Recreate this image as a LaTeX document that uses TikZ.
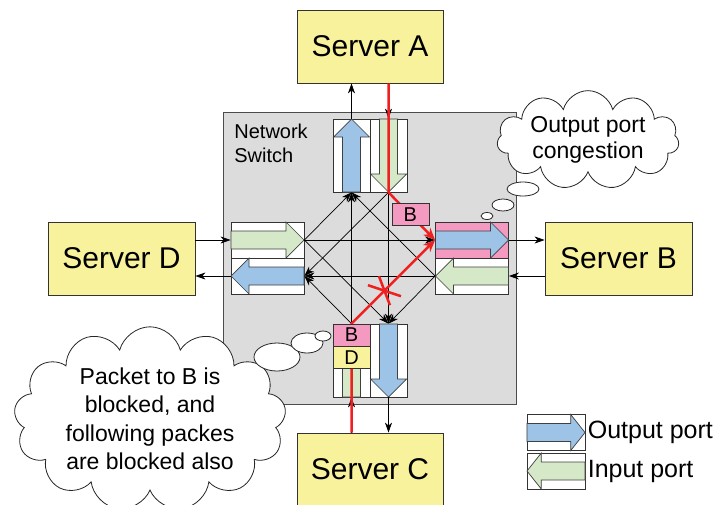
\documentclass[tikz,border=0pt]{standalone}
\usepackage{fontspec}
\setmainfont{Liberation Sans}
\usetikzlibrary{arrows.meta,shapes.geometric,shapes.symbols,calc}
\tikzset{>={Stealth[length=10pt,width=7pt,inset=3pt]}}
\definecolor{srvyellow}{HTML}{F7F29B}
\definecolor{bluearr}{HTML}{9DC3E6}
\definecolor{greenarr}{HTML}{D5E8C8}
\definecolor{pinkpk}{HTML}{F49AC1}
\definecolor{swgray}{HTML}{DCDCDC}
\definecolor{redline}{HTML}{F02020}
% block arrow inside a port cell: [extra opts]{cell}{angle}{fill}
\newcommand{\portarrow}[4][]{%
  \begin{scope}[shift={(#2.center)},rotate=#3,#1]
    \filldraw[draw=black!75,fill=#4,line width=0.7pt] (-36.5,-9) -- (18.5,-9) -- (18.5,-18)
      -- (36.5,0) -- (18.5,18) -- (18.5,9) -- (-36.5,9) -- cycle;
  \end{scope}}

\begin{document}
\begin{tikzpicture}[x=1pt, y=-1pt, line width=0.8pt,
    server/.style={draw=black!80, fill=srvyellow, minimum width=146pt, minimum height=73pt,
      inner sep=0pt, font=\fontsize{30}{36}\selectfont},
    hcell/.style={draw=black!80, fill=white, minimum width=73pt, minimum height=36pt, inner sep=0pt},
    vcell/.style={hcell, minimum width=37pt, minimum height=73pt},
    pkt/.style={draw=black!80, minimum width=37pt, minimum height=22pt, inner sep=0pt,
      font=\fontsize{20}{22}\selectfont},
    wire/.style={->, line width=0.7pt},
    blocked/.style={->, draw=redline, line width=2.5pt, >={Stealth[length=12pt,width=10pt]}},
    thought/.style={cloud, cloud ignores aspect, draw=black!85, fill=white, align=center, inner sep=0pt},
    bubble/.style={ellipse, draw=black!85, fill=white, inner sep=0pt}]
    \useasboundingbox (0,0) rectangle (722,504);
    \clip (0,0) rectangle (722,504);

    \node[server] (srvA) at (370,46.5) {Server A};
    \node[server, minimum width=147pt] (srvD) at (121.5,258.5) {Server D};
    \node[server, minimum width=147pt] (srvB) at (618.5,258.5) {Server B};
    \node[server] (srvC) at (370,469.5) {Server C};

    \node[draw=black!70, fill=swgray, minimum width=293pt, minimum height=292pt, inner sep=0pt] (sw) at (369.5,258) {};
    \node[anchor=north west, align=left, inner sep=0pt, font=\fontsize{20}{24}\selectfont] (swname) at (234,124) {Network\\Switch};

    % ports
    \node[vcell] (tout) at (351.5,155.5) {};
    \node[vcell] (tin) at (388.5,155.5) {};
    \node[hcell] (lin) at (267.5,240) {};
    \node[hcell] (lout) at (267.5,276) {};
    \node[hcell, fill=pinkpk] (rout) at (472,240) {};
    \node[hcell] (rin) at (472,276) {};
    \node[vcell] (bin) at (351.5,360.5) {};
    \node[vcell] (bout) at (388.5,360.5) {};
    \portarrow{tout}{90}{bluearr}
    \portarrow{tin}{270}{greenarr}
    \portarrow{lin}{0}{greenarr}
    \portarrow{lout}{180}{bluearr}
    \portarrow{rout}{0}{bluearr}
    \portarrow{rin}{180}{greenarr}
    \portarrow{bin}{90}{greenarr}
    \portarrow{bout}{270}{bluearr}

    % crossbar
    \foreach \a/\b in {tin.south/lout.east, tin.south/bout.north, lin.east/tout.south,
        lin.east/rout.west, lin.east/bout.north, rin.west/tout.south, rin.west/lout.east,
        rin.west/bout.north, bin.north/tout.south, bin.north/lout.east}
      \draw[wire] (\a) -- (\b);

    \draw[wire] (tout.north) -- (tout.north |- srvA.south);
    \draw[wire] (tin.north |- srvA.south) -- (tin.north);
    \draw[wire] (srvD.east |- lin.west) -- (lin.west);
    \draw[wire] (lout.west) -- (lout.west -| srvD.east);
    \draw[wire] (rout.east) -- (rout.east -| srvB.west);
    \draw[wire] (srvB.west |- rin.east) -- (rin.east);
    \draw[wire] (bout.south) -- (bout.south |- srvC.north);
    \draw[wire] (bin.south |- srvC.north) -- (bin.south);

    % blocked packets
    \draw[blocked] (tin.north |- srvA.south) -- (tin.south) -- (rout.west);
    \draw[blocked] (bin.south |- srvC.north) -- (bin.north) -- (rout.west);
    \node[pkt, fill=pinkpk] (pktB) at ($(tin.south)!0.47!(rout.west)$) {B};
    \node[pkt, fill=pinkpk, anchor=north] (qB) at (bin.north) {B};
    \node[pkt, fill=srvyellow, anchor=north] (qD) at (qB.south) {D};
    \coordinate (xmark) at ($(bin.north)!0.4!(rout.west)$);
    \draw[redline, line width=2.5pt] ($(xmark)+(-17,-5)$) -- ($(xmark)+(16,6)$);
    \draw[redline, line width=2.5pt] ($(xmark)+(-6,-14)$) -- ($(xmark)+(5,15)$);

    % clouds
    \node[thought, cloud puffs=11, minimum width=182pt, minimum height=78pt,
      font=\fontsize{23}{26}\selectfont] (congest) at (588,140) {Output port\\congestion};
    \node[bubble, minimum width=32pt, minimum height=14pt] (cb1) at (523,189) {};
    \node[bubble, minimum width=22pt, minimum height=12pt] (cb2) at (503,205) {};
    \node[bubble, minimum width=12pt, minimum height=7pt] (cb3) at (487,216) {};
    \node[thought, cloud puffs=13, minimum width=272pt, minimum height=160pt,
      font=\fontsize{23}{28.5}\selectfont] (blocknote) at (150,419)
      {Packet to B is\\blocked, and\\following packes\\are blocked also};
    \node[bubble, minimum width=46pt, minimum height=28pt] (bb1) at (277,357) {};
    \node[bubble, minimum width=32pt, minimum height=20pt] (bb2) at (307,343) {};
    \node[bubble, minimum width=16pt, minimum height=10pt] (bb3) at (323,336) {};

    % legend
    \node[hcell, minimum width=58pt] (legout) at (556,432.5) {};
    \node[hcell, minimum width=58pt] (legin) at (556,471) {};
    \portarrow[xscale=0.795]{legout}{0}{bluearr}
    \portarrow[xscale=0.795]{legin}{180}{greenarr}
    \node[anchor=west, inner sep=2pt, font=\fontsize{25}{30}\selectfont] (legouttxt) at (legout.east) {Output port};
    \node[anchor=west, inner sep=2pt, font=\fontsize{25}{30}\selectfont] (legintxt) at (legin.east) {Input port};
\end{tikzpicture}
\end{document}
